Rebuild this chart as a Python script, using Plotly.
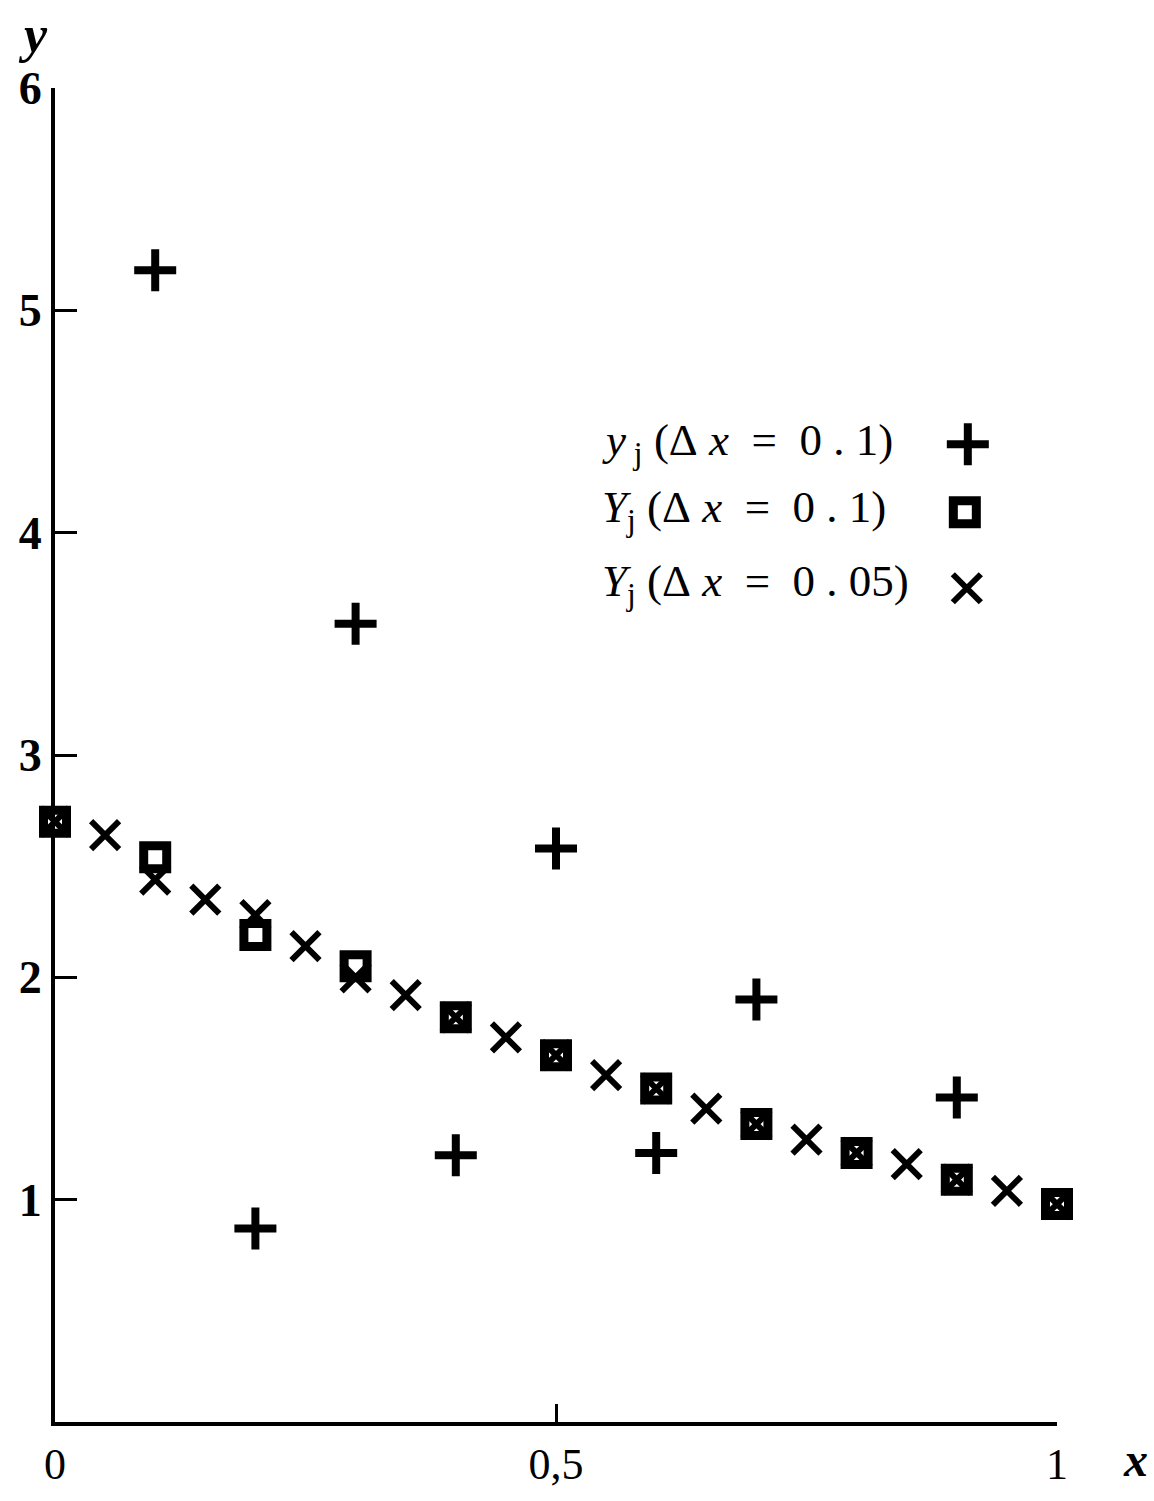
import plotly.graph_objects as go

# Grid-point solutions of the difference equations
x_coarse = [0.0, 0.1, 0.2, 0.3, 0.4, 0.5, 0.6, 0.7, 0.8, 0.9, 1.0]
x_plus = [0.1, 0.2, 0.3, 0.4, 0.5, 0.6, 0.7, 0.9]
y_plus = [5.18, 0.87, 3.59, 1.20, 2.58, 1.21, 1.90, 1.46]          # y_j, dx = 0.1
Y_coarse = [2.70, 2.54, 2.19, 2.05, 1.82, 1.65, 1.50, 1.34, 1.21, 1.09, 0.98]  # Y_j, dx = 0.1
x_fine = [0.0, 0.05, 0.1, 0.15, 0.2, 0.25, 0.3, 0.35, 0.4, 0.45, 0.5,
          0.55, 0.6, 0.65, 0.7, 0.75, 0.8, 0.85, 0.9, 0.95, 1.0]
Y_fine = [2.70, 2.64, 2.44, 2.35, 2.28, 2.14, 2.00, 1.92, 1.82, 1.73, 1.65,
          1.56, 1.50, 1.41, 1.34, 1.27, 1.21, 1.16, 1.09, 1.04, 0.98]   # Y_j, dx = 0.05

y_ticks = [1, 2, 3, 4, 5, 6]
x_ticks = [0, 0.5, 1]
x_tick_text = ["0", "0,5", "1"]

SP = "\u00a0"
legend_labels = [
    f"<i>y</i><sub>{SP}j</sub>{SP}(Δ{SP}<i>x</i>{SP}{SP}={SP}{SP}0{SP}.{SP}1)",
    f"<i>Y</i><sub>j</sub>{SP}(Δ{SP}<i>x</i>{SP}{SP}={SP}{SP}0{SP}.{SP}1)",
    f"<i>Y</i><sub>j</sub>{SP}(Δ{SP}<i>x</i>{SP}{SP}={SP}{SP}0{SP}.{SP}05)",
]

FONT = "Liberation Serif"
INK = "black"

plus_marker = dict(symbol="cross-thin", size=30, line=dict(width=8, color=INK), color=INK)
square_marker = dict(symbol="square-open", size=23, line=dict(width=9, color=INK), color=INK)
x_marker = dict(symbol="x-thin", size=28, line=dict(width=6, color=INK), color=INK)

fig = go.Figure()
fig.add_trace(go.Scatter(x=x_coarse, y=Y_coarse, mode="markers", marker=square_marker,
                         cliponaxis=False, showlegend=False))
fig.add_trace(go.Scatter(x=x_fine, y=Y_fine, mode="markers", marker=x_marker,
                         cliponaxis=False, showlegend=False))
fig.add_trace(go.Scatter(x=x_plus, y=y_plus, mode="markers", marker=plus_marker,
                         cliponaxis=False, showlegend=False))

# key symbols beside the legend text, on an overlay axis spanning the plot box
key_x = [0.911, 0.908, 0.910]
key_y = [0.733, 0.682, 0.625]
for kx, ky, m in zip(key_x, key_y, [plus_marker, square_marker, x_marker]):
    fig.add_trace(go.Scatter(x=[kx], y=[ky], mode="markers", marker=m, xaxis="x2", yaxis="y2",
                             cliponaxis=False, showlegend=False, hoverinfo="skip"))

text_y = [0.734, 0.684, 0.628]
for label, ty in zip(legend_labels, text_y):
    fig.add_annotation(text=label, xref="paper", yref="paper", x=0.544, y=ty,
                       xanchor="left", yanchor="middle", showarrow=False,
                       font=dict(family=FONT, size=45, color=INK))

fig.add_annotation(text="<b><i>y</i></b>", xref="paper", yref="paper", x=-0.022, y=1.04,
                   xanchor="center", yanchor="middle", showarrow=False,
                   font=dict(family=FONT, size=52, color=INK))
fig.add_annotation(text="<b><i>x</i></b>", xref="paper", yref="paper", x=1.078, y=-0.028,
                   xanchor="center", yanchor="middle", showarrow=False,
                   font=dict(family=FONT, size=48, color=INK))

fig.update_layout(
    width=1154, height=1501,
    margin=dict(l=55, r=97, t=88, b=69),
    paper_bgcolor="white", plot_bgcolor="white",
    font=dict(family=FONT, color=INK),
    xaxis=dict(range=[0, 1], showgrid=False, zeroline=False, showline=True,
               linewidth=4, linecolor=INK, ticks="inside", ticklen=18, tickwidth=3,
               tickcolor=INK, tickvals=x_ticks, ticktext=x_tick_text,
               tickfont=dict(family=FONT, size=44, color=INK)),
    yaxis=dict(range=[0, 6], showgrid=False, zeroline=False, showline=True,
               linewidth=4, linecolor=INK, ticks="inside", ticklen=22, tickwidth=3,
               tickcolor=INK, tickvals=y_ticks,
               tickfont=dict(family=FONT, size=46, color=INK, weight="bold")),
    xaxis2=dict(range=[0, 1], overlaying="x", visible=False),
    yaxis2=dict(range=[0, 1], overlaying="y", visible=False),
)

fig.write_html("out.html")
